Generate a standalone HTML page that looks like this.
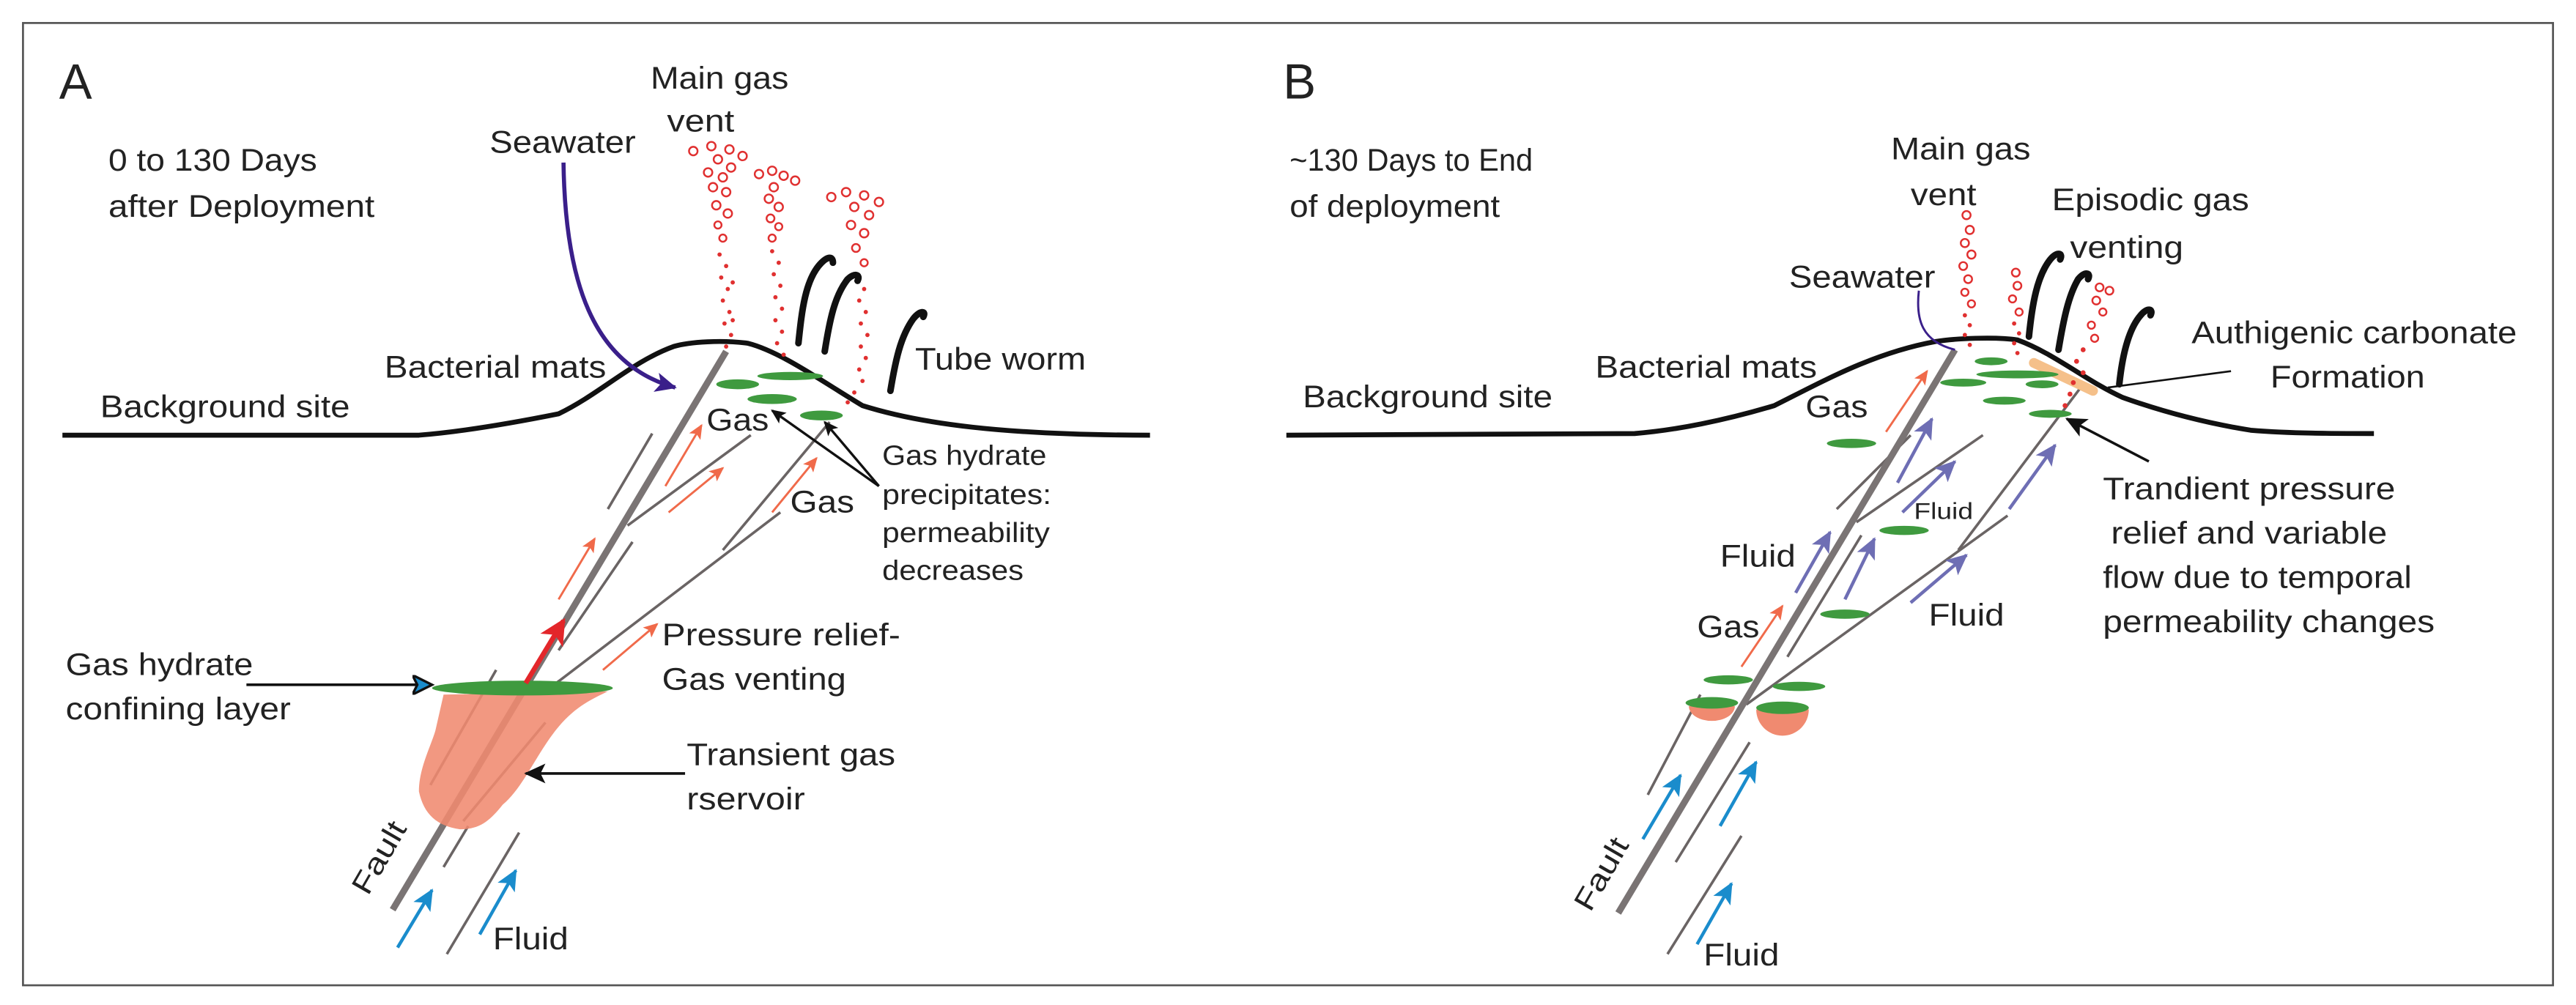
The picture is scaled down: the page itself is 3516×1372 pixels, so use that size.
<!DOCTYPE html>
<html><head><meta charset="utf-8"><style>
html,body{margin:0;padding:0;background:#fff;}
svg{display:block;}
text{font-family:"Liberation Sans",sans-serif;fill:#222;}
</style></head><body>
<svg width="3516" height="1372" viewBox="0 0 1568 612" preserveAspectRatio="none" xmlns="http://www.w3.org/2000/svg">
<defs>
<marker id="mr" markerUnits="userSpaceOnUse" markerWidth="10" markerHeight="8" refX="8" refY="4" orient="auto"><path d="M0,0 L9,4 L0,8 L2,4 Z" fill="#f06a4a"/></marker>
<marker id="mb" markerUnits="userSpaceOnUse" markerWidth="14" markerHeight="12" refX="12" refY="6" orient="auto"><path d="M0,0 L13,6 L0,12 L3,6 Z" fill="#1a8ccc"/></marker>
<marker id="mp" markerUnits="userSpaceOnUse" markerWidth="14" markerHeight="12" refX="12" refY="6" orient="auto"><path d="M0,0 L13,6 L0,12 L3,6 Z" fill="#6e6eb4"/></marker>
<marker id="mk" markerUnits="userSpaceOnUse" markerWidth="14" markerHeight="12" refX="12" refY="6" orient="auto"><path d="M0,0 L13,6 L0,12 L3,6 Z" fill="#111"/></marker>
<marker id="mk2" markerUnits="userSpaceOnUse" markerWidth="10" markerHeight="8" refX="8" refY="4" orient="auto"><path d="M0,0 L9,4 L0,8 L2,4 Z" fill="#111"/></marker>
<marker id="mw" markerUnits="userSpaceOnUse" markerWidth="14" markerHeight="12" refX="11" refY="6" orient="auto"><path d="M0,0 L12,6 L0,12 L3,6 Z" fill="#1a8ccc" stroke="#111" stroke-width="1.5"/></marker>
<marker id="mR" markerUnits="userSpaceOnUse" markerWidth="18" markerHeight="16" refX="14" refY="8" orient="auto"><path d="M0,0 L16,8 L0,16 L4,8 Z" fill="#e3262a"/></marker>
<marker id="mS" markerUnits="userSpaceOnUse" markerWidth="14" markerHeight="12" refX="12" refY="6" orient="auto"><path d="M0,0 L13,6 L0,12 L3,6 Z" fill="#3a1f8a"/></marker>
</defs>
<rect x="14" y="14" width="1540" height="586" fill="#fff" stroke="#555" stroke-width="1.2"/>

<!-- ================= PANEL A ================= -->
<text x="36" y="60" font-size="30">A</text>
<text x="66" y="104" font-size="19" textLength="127" lengthAdjust="spacingAndGlyphs">0 to 130 Days</text>
<text x="66" y="132" font-size="19" textLength="162" lengthAdjust="spacingAndGlyphs">after Deployment</text>
<text x="298" y="93" font-size="19" textLength="89" lengthAdjust="spacingAndGlyphs">Seawater</text>
<text x="396" y="54" font-size="19" textLength="84" lengthAdjust="spacingAndGlyphs">Main gas</text>
<text x="406" y="80" font-size="19" textLength="41" lengthAdjust="spacingAndGlyphs">vent</text>

<path d="M38,265 L255,265 C280,263 310,258 340,252 C365,240 385,220 410,211 C420,208 440,207 455,209 C475,214 500,232 525,247 C560,258 610,265 700,265" fill="none" stroke="#111" stroke-width="3"/>

<g stroke="#6a6464" stroke-width="1.6" fill="none">
<line x1="370" y1="310" x2="397" y2="264"/>
<line x1="382" y1="320" x2="457" y2="265"/>
<line x1="340" y1="396" x2="385" y2="330"/>
<line x1="262" y1="478" x2="302" y2="408"/>
<line x1="332" y1="421" x2="475" y2="312"/>
<line x1="440" y1="335" x2="505" y2="257"/>
<line x1="270" y1="528" x2="285" y2="503"/>
<line x1="272" y1="581" x2="316" y2="507"/>
<line x1="282" y1="500" x2="332" y2="440"/>
</g>
<line x1="239" y1="554" x2="442" y2="214" stroke="#7a7474" stroke-width="4"/>
<path d="M270,423 L370,421 C360,426 350,430 338,445 C325,462 318,480 306,490 C298,500 292,505 280,505 C266,503 258,496 255,482 C255,468 262,455 265,445 Z" fill="#f08a70" opacity="0.88"/>
<ellipse cx="318" cy="419" rx="55" ry="4.5" fill="#3f9a3f"/>
<line x1="320" y1="416" x2="343" y2="378" stroke="#e3262a" stroke-width="3" marker-end="url(#mR)"/>
<g stroke="#f06a4a" stroke-width="1.3" marker-end="url(#mr)">
<line x1="340" y1="365" x2="362" y2="328"/>
<line x1="405" y1="296" x2="427" y2="259"/>
<line x1="407" y1="312" x2="440" y2="285"/>
<line x1="470" y1="312" x2="497" y2="279"/>
<line x1="367" y1="408" x2="400" y2="380"/>
</g>
<g stroke="#1a8ccc" stroke-width="2" marker-end="url(#mb)">
<line x1="242" y1="577" x2="263" y2="542"/>
<line x1="292" y1="569" x2="314" y2="530"/>
</g>
<g fill="#3f9a3f">
<ellipse cx="449" cy="234" rx="13" ry="3"/>
<ellipse cx="481" cy="229" rx="20" ry="2.5"/>
<ellipse cx="470" cy="243" rx="15" ry="3"/>
<ellipse cx="500" cy="253" rx="13" ry="3"/>
</g>
<path d="M343,99 C344,170 360,222 411,236" fill="none" stroke="#3a1f8a" stroke-width="2.5" marker-end="url(#mS)"/>
<line x1="150" y1="417" x2="262" y2="417" stroke="#111" stroke-width="1.6" marker-end="url(#mw)"/>
<line x1="417" y1="471" x2="320" y2="471" stroke="#111" stroke-width="1.6" marker-end="url(#mk)"/>
<line x1="535" y1="296" x2="470" y2="250" stroke="#111" stroke-width="1.5" marker-end="url(#mk2)"/>
<line x1="535" y1="296" x2="502" y2="257" stroke="#111" stroke-width="1.5" marker-end="url(#mk2)"/>

<g fill="#fff" stroke="#e03030" stroke-width="1.1">
<circle cx="422" cy="92" r="2.6"/><circle cx="433" cy="89" r="2.6"/><circle cx="444" cy="91" r="2.6"/><circle cx="452" cy="95" r="2.6"/><circle cx="437" cy="97" r="2.6"/><circle cx="445" cy="102" r="2.6"/><circle cx="431" cy="105" r="2.6"/><circle cx="440" cy="108" r="2.6"/><circle cx="434" cy="114" r="2.6"/><circle cx="442" cy="117" r="2.6"/><circle cx="436" cy="125" r="2.6"/><circle cx="443" cy="130" r="2.6"/><circle cx="437" cy="137" r="2.2"/><circle cx="440" cy="145" r="2.2"/>
<circle cx="462" cy="106" r="2.6"/><circle cx="470" cy="104" r="2.6"/><circle cx="477" cy="107" r="2.6"/><circle cx="484" cy="110" r="2.6"/><circle cx="471" cy="114" r="2.6"/><circle cx="468" cy="121" r="2.6"/><circle cx="474" cy="126" r="2.6"/><circle cx="469" cy="133" r="2.4"/><circle cx="474" cy="138" r="2.2"/><circle cx="470" cy="145" r="2.2"/>
<circle cx="506" cy="120" r="2.6"/><circle cx="515" cy="117" r="2.6"/><circle cx="526" cy="119" r="2.6"/><circle cx="535" cy="123" r="2.6"/><circle cx="520" cy="126" r="2.6"/><circle cx="529" cy="131" r="2.6"/><circle cx="518" cy="137" r="2.6"/><circle cx="526" cy="142" r="2.6"/><circle cx="521" cy="151" r="2.4"/><circle cx="526" cy="160" r="2.2"/>
</g>
<g fill="#e03030">
<circle cx="438" cy="155" r="1.3"/><circle cx="442" cy="162" r="1.3"/><circle cx="439" cy="169" r="1.3"/><circle cx="443" cy="176" r="1.3"/><circle cx="440" cy="183" r="1.3"/><circle cx="444" cy="190" r="1.3"/><circle cx="441" cy="197" r="1.3"/><circle cx="445" cy="204" r="1.3"/><circle cx="442" cy="211" r="1.3"/><circle cx="446" cy="172" r="1.3"/><circle cx="446" cy="195" r="1.3"/>
<circle cx="470" cy="153" r="1.3"/><circle cx="474" cy="160" r="1.3"/><circle cx="471" cy="167" r="1.3"/><circle cx="475" cy="174" r="1.3"/><circle cx="472" cy="181" r="1.3"/><circle cx="476" cy="188" r="1.3"/><circle cx="472" cy="195" r="1.3"/><circle cx="476" cy="202" r="1.3"/><circle cx="473" cy="209" r="1.3"/><circle cx="477" cy="216" r="1.3"/>
<circle cx="522" cy="169" r="1.3"/><circle cx="526" cy="176" r="1.3"/><circle cx="523" cy="183" r="1.3"/><circle cx="527" cy="190" r="1.3"/><circle cx="524" cy="197" r="1.3"/><circle cx="528" cy="204" r="1.3"/><circle cx="524" cy="211" r="1.3"/><circle cx="527" cy="218" r="1.3"/><circle cx="523" cy="225" r="1.3"/><circle cx="525" cy="232" r="1.3"/><circle cx="520" cy="239" r="1.3"/><circle cx="516" cy="245" r="1.3"/>
</g>
<g fill="none" stroke="#111" stroke-width="4" stroke-linecap="round">
<path d="M486,209 C488,190 490,170 500,160 C504,156 507,156 507,160"/>
<path d="M502,214 C505,195 508,180 516,170 C520,166 524,167 522,171"/>
<path d="M542,238 C545,220 548,205 556,194 C560,189 564,189 562,193"/>
</g>

<text x="234" y="230" font-size="19" textLength="135" lengthAdjust="spacingAndGlyphs">Bacterial mats</text>
<text x="61" y="254" font-size="19" textLength="152" lengthAdjust="spacingAndGlyphs">Background site</text>
<text x="557" y="225" font-size="19" textLength="104" lengthAdjust="spacingAndGlyphs">Tube worm</text>
<text x="430" y="262" font-size="19" textLength="38" lengthAdjust="spacingAndGlyphs">Gas</text>
<text x="481" y="312" font-size="19" textLength="39" lengthAdjust="spacingAndGlyphs">Gas</text>
<text x="537" y="283" font-size="17" textLength="100" lengthAdjust="spacingAndGlyphs">Gas hydrate</text>
<text x="537" y="307" font-size="17" textLength="103" lengthAdjust="spacingAndGlyphs">precipitates:</text>
<text x="537" y="330" font-size="17" textLength="102" lengthAdjust="spacingAndGlyphs">permeability</text>
<text x="537" y="353" font-size="17" textLength="86" lengthAdjust="spacingAndGlyphs">decreases</text>
<text x="403" y="393" font-size="19" textLength="145" lengthAdjust="spacingAndGlyphs">Pressure relief-</text>
<text x="403" y="420" font-size="19" textLength="112" lengthAdjust="spacingAndGlyphs">Gas venting</text>
<text x="418" y="466" font-size="19" textLength="127" lengthAdjust="spacingAndGlyphs">Transient gas</text>
<text x="418" y="493" font-size="19" textLength="72" lengthAdjust="spacingAndGlyphs">rservoir</text>
<text x="40" y="411" font-size="19" textLength="114" lengthAdjust="spacingAndGlyphs">Gas hydrate</text>
<text x="40" y="438" font-size="19" textLength="137" lengthAdjust="spacingAndGlyphs">confining layer</text>
<text x="300" y="578" font-size="19" textLength="46" lengthAdjust="spacingAndGlyphs">Fluid</text>
<text x="0" y="0" font-size="18" transform="translate(224,546) rotate(-60)" textLength="48" lengthAdjust="spacingAndGlyphs">Fault</text>

<!-- ================= PANEL B ================= -->
<text x="781" y="60" font-size="30">B</text>
<text x="785" y="104" font-size="19" textLength="148" lengthAdjust="spacingAndGlyphs">~130 Days to End</text>
<text x="785" y="132" font-size="19" textLength="128" lengthAdjust="spacingAndGlyphs">of deployment</text>
<text x="1151" y="97" font-size="19" textLength="85" lengthAdjust="spacingAndGlyphs">Main gas</text>
<text x="1163" y="125" font-size="19" textLength="40" lengthAdjust="spacingAndGlyphs">vent</text>
<text x="1249" y="128" font-size="19" textLength="120" lengthAdjust="spacingAndGlyphs">Episodic gas</text>
<text x="1260" y="157" font-size="19" textLength="69" lengthAdjust="spacingAndGlyphs">venting</text>
<text x="1089" y="175" font-size="19" textLength="89" lengthAdjust="spacingAndGlyphs">Seawater</text>
<text x="1334" y="209" font-size="19" textLength="198" lengthAdjust="spacingAndGlyphs">Authigenic carbonate</text>
<text x="1382" y="236" font-size="19" textLength="94" lengthAdjust="spacingAndGlyphs">Formation</text>

<path d="M783,265 L995,264 C1020,262 1050,256 1080,247 C1110,232 1140,215 1178,208 C1190,206 1215,205 1228,207 C1250,215 1270,232 1292,242 C1320,252 1345,258 1370,262 C1395,264 1420,264 1445,264" fill="none" stroke="#111" stroke-width="3"/>

<g stroke="#6a6464" stroke-width="1.6" fill="none">
<line x1="1118" y1="310" x2="1163" y2="265"/>
<line x1="1130" y1="318" x2="1207" y2="265"/>
<line x1="1088" y1="400" x2="1133" y2="326"/>
<line x1="1063" y1="429" x2="1222" y2="314"/>
<line x1="1192" y1="335" x2="1268" y2="234"/>
<line x1="1003" y1="484" x2="1035" y2="423"/>
<line x1="1020" y1="525" x2="1065" y2="452"/>
<line x1="1015" y1="581" x2="1060" y2="509"/>
</g>
<line x1="985" y1="556" x2="1190" y2="213" stroke="#7a7474" stroke-width="4"/>
<line x1="1238" y1="221" x2="1274" y2="238" stroke="#f5c08a" stroke-width="6" stroke-linecap="round"/>
<g fill="#3f9a3f">
<ellipse cx="1127" cy="270" rx="15" ry="2.8"/>
<ellipse cx="1159" cy="323" rx="15" ry="2.8"/>
<ellipse cx="1123" cy="374" rx="15" ry="2.8"/>
<ellipse cx="1052" cy="414" rx="15" ry="2.8"/>
<ellipse cx="1095" cy="418" rx="16" ry="2.8"/>
<ellipse cx="1212" cy="220" rx="10" ry="2.4"/>
<ellipse cx="1228" cy="228" rx="25" ry="2.4"/>
<ellipse cx="1195" cy="233" rx="14" ry="2.4"/>
<ellipse cx="1243" cy="234" rx="10" ry="2.4"/>
<ellipse cx="1220" cy="244" rx="13" ry="2.4"/>
<ellipse cx="1248" cy="252" rx="13" ry="2.4"/>
</g>
<path d="M1028,430 A14,9 0 0 0 1056,430 Z" fill="#f08a70"/>
<ellipse cx="1042" cy="428" rx="16" ry="3.5" fill="#3f9a3f"/>
<path d="M1069,432 A16,16 0 0 0 1101,432 Z" fill="#f08a70"/>
<ellipse cx="1085" cy="431" rx="16" ry="3.8" fill="#3f9a3f"/>

<g stroke="#6e6eb4" stroke-width="2" marker-end="url(#mp)">
<line x1="1155" y1="294" x2="1176" y2="255"/>
<line x1="1158" y1="312" x2="1190" y2="281"/>
<line x1="1093" y1="361" x2="1114" y2="324"/>
<line x1="1123" y1="365" x2="1141" y2="328"/>
<line x1="1163" y1="367" x2="1197" y2="338"/>
<line x1="1223" y1="310" x2="1251" y2="271"/>
</g>
<g stroke="#f06a4a" stroke-width="1.3" marker-end="url(#mr)">
<line x1="1148" y1="263" x2="1173" y2="226"/>
<line x1="1060" y1="406" x2="1085" y2="369"/>
</g>
<g stroke="#1a8ccc" stroke-width="2" marker-end="url(#mb)">
<line x1="1000" y1="511" x2="1023" y2="472"/>
<line x1="1047" y1="503" x2="1069" y2="464"/>
<line x1="1033" y1="575" x2="1054" y2="538"/>
</g>
<path d="M1168,177 C1166,195 1170,208 1190,213" fill="none" stroke="#3a1f8a" stroke-width="1.3"/>
<line x1="1358" y1="226" x2="1283" y2="236" stroke="#111" stroke-width="1.2"/>
<line x1="1308" y1="281" x2="1258" y2="255" stroke="#111" stroke-width="1.6" marker-end="url(#mk)"/>

<g fill="#fff" stroke="#e03030" stroke-width="1.1">
<circle cx="1197" cy="131" r="2.5"/><circle cx="1199" cy="140" r="2.5"/><circle cx="1196" cy="148" r="2.5"/><circle cx="1200" cy="155" r="2.5"/><circle cx="1195" cy="162" r="2.4"/><circle cx="1198" cy="170" r="2.4"/><circle cx="1196" cy="178" r="2.2"/><circle cx="1200" cy="185" r="2.2"/>
<circle cx="1227" cy="166" r="2.4"/><circle cx="1228" cy="174" r="2.4"/><circle cx="1225" cy="182" r="2.2"/><circle cx="1229" cy="190" r="2.2"/>
<circle cx="1278" cy="175" r="2.4"/><circle cx="1284" cy="177" r="2.4"/><circle cx="1276" cy="183" r="2.4"/><circle cx="1280" cy="190" r="2.2"/><circle cx="1273" cy="198" r="2.2"/><circle cx="1275" cy="206" r="2.2"/>
</g>
<g fill="#e03030">
<circle cx="1196" cy="192" r="1.3"/><circle cx="1199" cy="198" r="1.3"/><circle cx="1196" cy="204" r="1.3"/><circle cx="1199" cy="210" r="1.3"/>
<circle cx="1226" cy="197" r="1.3"/><circle cx="1229" cy="203" r="1.3"/><circle cx="1226" cy="209" r="1.3"/><circle cx="1228" cy="215" r="1.3"/>
<circle cx="1268" cy="213" r="1.5"/><circle cx="1264" cy="220" r="1.5"/><circle cx="1268" cy="227" r="1.5"/><circle cx="1262" cy="233" r="1.5"/><circle cx="1260" cy="240" r="1.5"/><circle cx="1257" cy="247" r="1.5"/>
</g>
<g fill="none" stroke="#111" stroke-width="4" stroke-linecap="round">
<path d="M1235,205 C1237,185 1240,168 1248,158 C1252,153 1256,154 1254,158"/>
<path d="M1253,213 C1256,195 1259,180 1265,170 C1269,165 1273,166 1271,170"/>
<path d="M1290,234 C1292,215 1296,200 1303,192 C1307,187 1311,188 1309,192"/>
</g>

<text x="971" y="230" font-size="19" textLength="135" lengthAdjust="spacingAndGlyphs">Bacterial mats</text>
<text x="793" y="248" font-size="19" textLength="152" lengthAdjust="spacingAndGlyphs">Background site</text>
<text x="1099" y="254" font-size="19" textLength="38" lengthAdjust="spacingAndGlyphs">Gas</text>
<text x="1280" y="304" font-size="19" textLength="178" lengthAdjust="spacingAndGlyphs">Trandient pressure</text>
<text x="1285" y="331" font-size="19" textLength="168" lengthAdjust="spacingAndGlyphs">relief and variable</text>
<text x="1280" y="358" font-size="19" textLength="188" lengthAdjust="spacingAndGlyphs">flow due to temporal</text>
<text x="1280" y="385" font-size="19" textLength="202" lengthAdjust="spacingAndGlyphs">permeability changes</text>
<text x="1165" y="316" font-size="14" textLength="36" lengthAdjust="spacingAndGlyphs">Fluid</text>
<text x="1047" y="345" font-size="19" textLength="46" lengthAdjust="spacingAndGlyphs">Fluid</text>
<text x="1033" y="388" font-size="19" textLength="38" lengthAdjust="spacingAndGlyphs">Gas</text>
<text x="1174" y="381" font-size="19" textLength="46" lengthAdjust="spacingAndGlyphs">Fluid</text>
<text x="1037" y="588" font-size="19" textLength="46" lengthAdjust="spacingAndGlyphs">Fluid</text>
<text x="0" y="0" font-size="18" transform="translate(968,556) rotate(-60)" textLength="48" lengthAdjust="spacingAndGlyphs">Fault</text>
</svg>
</body></html>
